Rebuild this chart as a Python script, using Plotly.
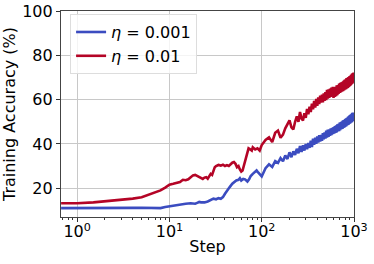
import plotly.graph_objects as go

# ---- data ----
steps_early_blue = [0.67, 1, 1.5, 2, 3, 4, 5, 6, 7, 8, 9, 10, 11, 12, 13, 15, 17, 19, 20, 21, 22, 24, 26, 28,
                    30, 32, 34, 36, 38, 40, 42, 45, 48, 50, 53, 56, 58, 60, 63, 66, 70, 73, 76, 80, 84, 88, 92, 96]
acc_early_blue = [11.0, 11.0, 10.9, 10.8, 11.0, 11.1, 11.2, 11.2, 11.3, 11.0, 11.5, 11.8, 12.0, 12.4, 12.8, 13.0,
                  13.2, 13.0, 13.4, 13.8, 13.6, 13.6, 14.0, 14.5, 15.3, 15.0, 15.5, 15.2, 16.0, 17.5, 19.0, 20.5,
                  22.0, 22.8, 23.5, 23.8, 24.5, 23.5, 24.2, 24.0, 23.0, 24.0, 25.5, 26.5, 27.5, 28.0, 27.0, 26.0]

steps_early_red = [0.67, 1, 1.5, 2, 3, 4, 5, 6, 7, 8, 9, 10, 11, 12, 13, 14, 15, 16, 17, 18, 19, 20, 21, 22, 23,
                   24, 25, 26, 27, 28, 29, 30, 31, 32, 34, 36, 38, 40, 42, 44, 46, 48, 50, 52, 54, 56, 58, 60, 62,
                   64, 66, 68, 70, 72, 75, 78, 80, 85, 90, 95]
acc_early_red = [13.2, 13.2, 13.6, 14.0, 14.8, 15.3, 15.9, 17.0, 18.0, 19.0, 20.3, 21.6, 22.0, 22.4, 22.8, 23.8,
                 23.6, 24.0, 24.8, 25.8, 26.0, 25.5, 25.0, 24.5, 24.2, 24.8, 25.0, 24.3, 25.5, 26.5, 26.0, 27.5,
                 29.5, 30.0, 30.5, 30.2, 30.6, 30.0, 30.4, 30.0, 30.8, 31.5, 31.8, 31.0, 29.5, 30.0, 28.5, 27.5,
                 28.0, 30.0, 32.5, 35.0, 36.5, 38.0, 37.5, 37.0, 38.5, 37.5, 38.0, 37.0]

steps_late = list(range(100, 1001, 10))
acc_late_blue = [25.3, 29.0, 30.8, 29.6, 32.2, 31.4, 33.6, 32.2, 34.8, 33.2, 36.2, 34.0, 36.6, 35.0, 37.8, 35.8,
                 39.0, 36.4, 39.4, 37.0, 40.0, 37.6, 40.4, 38.2, 41.4, 38.6, 42.4, 39.6, 42.8, 40.0, 43.4, 40.6,
                 44.0, 41.0, 44.0, 41.4, 44.8, 42.0, 45.2, 42.4, 46.0, 42.8, 46.4, 43.2, 46.6, 43.6, 47.0, 44.0,
                 47.2, 44.4, 47.6, 44.6, 48.0, 45.0, 48.4, 45.2, 48.8, 45.6, 49.0, 45.8, 49.6, 46.2, 49.8, 46.6,
                 50.2, 46.8, 50.6, 47.2, 50.8, 47.4, 51.2, 47.8, 51.6, 48.0, 51.8, 48.4, 52.2, 48.6, 52.6, 49.0,
                 53.0, 49.2, 53.2, 49.6, 53.6, 49.8, 54.0, 50.2, 54.2, 50.4, 53.4]
acc_late_red = [39.5, 41.8, 43.0, 40.8, 45.0, 46.0, 42.8, 44.2, 47.0, 49.2, 50.6, 47.5, 46.5, 50.0, 52.4, 50.0,
                54.4, 51.4, 50.6, 53.8, 51.8, 55.8, 53.4, 56.8, 54.4, 58.2, 55.6, 59.4, 56.4, 60.3, 57.2, 61.0,
                58.0, 61.8, 58.6, 62.2, 58.8, 62.8, 59.4, 63.4, 59.8, 64.4, 60.4, 64.6, 60.8, 65.0, 61.2, 65.4,
                61.4, 65.8, 60.8, 65.2, 61.2, 65.8, 61.6, 66.4, 62.0, 66.6, 62.6, 67.2, 63.0, 67.6, 63.2, 67.8,
                63.6, 68.0, 63.8, 68.5, 64.1, 68.9, 64.5, 69.2, 64.7, 69.7, 65.0, 69.8, 65.3, 70.2, 65.7, 70.5,
                66.0, 70.8, 66.4, 71.2, 66.8, 71.6, 67.2, 72.0, 67.6, 72.2, 68.5]

x_tick_vals = [1, 10, 100, 1000]
x_tick_text = ["10<sup>0</sup>", "10<sup>1</sup>", "10<sup>2</sup>", "10<sup>3</sup>"]
y_tick_vals = [20, 40, 60, 80, 100]
series_names = ["<i>η</i> = 0.001", "<i>η</i> = 0.01"]

minor_vals = [m * d for d in [0.1, 1, 10, 100] for m in range(2, 10) if 0.67 <= m * d <= 1000]

fig = go.Figure()
fig.add_trace(go.Scatter(x=steps_early_blue + steps_late, y=acc_early_blue + acc_late_blue,
                         mode="lines", name=series_names[0],
                         line=dict(color="#3b4cc0", width=2.6)))
fig.add_trace(go.Scatter(x=steps_early_red + steps_late, y=acc_early_red + acc_late_red,
                         mode="lines", name=series_names[1],
                         line=dict(color="#b40426", width=2.6)))

font_family = "DejaVu Sans"
fig.update_layout(
    width=374, height=264,
    margin=dict(l=61, r=20, t=11, b=47, autoexpand=False),
    paper_bgcolor="white", plot_bgcolor="white",
    font=dict(family=font_family, size=16, color="black"),
    showlegend=True,
    legend=dict(x=0.031, y=0.985, xanchor="left", yanchor="top",
                bgcolor="rgba(255,255,255,0.8)", bordercolor="#dddddd", borderwidth=1,
                font=dict(family=font_family, size=16), tracegroupgap=0),
    xaxis=dict(type="log", range=[-0.175, 3.0],
               tickvals=x_tick_vals, ticktext=x_tick_text,
               ticks="outside", ticklen=4, tickcolor="#333",
               tickfont=dict(size=16), ticklabelstandoff=-4,
               showgrid=True, gridcolor="#c8c8c8", gridwidth=1,
               showline=True, linecolor="#444", linewidth=1.2, mirror=True,
               minor=dict(tickmode="array", tickvals=minor_vals, ticks="outside",
                          ticklen=2, tickcolor="#333", showgrid=False),
               title=dict(text="Step", standoff=0, font=dict(size=16)),
               zeroline=False, automargin=False),
    yaxis=dict(range=[7, 100], tickvals=y_tick_vals,
               ticks="outside", ticklen=4, tickcolor="#333",
               tickfont=dict(size=16),
               showgrid=True, gridcolor="#c8c8c8", gridwidth=1,
               showline=True, linecolor="#444", linewidth=1.2, mirror=True,
               title=dict(text="Training Accuracy (%)", standoff=4, font=dict(size=16)),
               zeroline=False, automargin=False),
)

fig.write_html("out.html", config={"displayModeBar": False},
               post_script="document.body.style.margin='0';")
